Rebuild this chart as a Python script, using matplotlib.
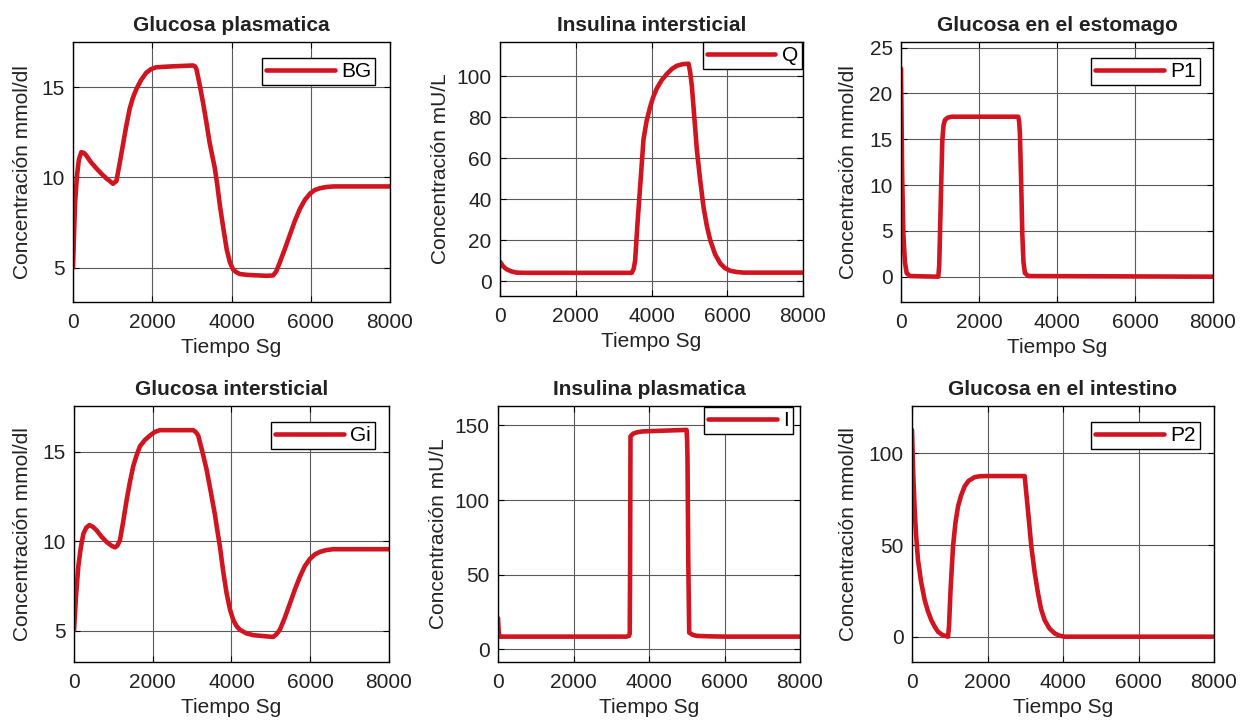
import matplotlib
matplotlib.use("Agg")
import matplotlib.pyplot as plt

plt.rcParams['font.family'] = ['Liberation Sans', 'DejaVu Sans']

# ---------------- data ----------------
t_bg = [0, 50, 100, 150, 210, 280, 340, 450, 590, 720, 840, 1010, 1095, 1180, 1260, 1340, 1430,
        1510, 1600, 1720, 1850, 1970, 2100, 2500, 3030, 3080, 3115, 3200, 3285, 3370, 3450, 3580,
        3640, 3710, 3800, 3880, 3960, 4040, 4120, 4210, 4400, 4700, 4880, 5050, 5130, 5220, 5340,
        5470, 5600, 5725, 5850, 5980, 6100, 6230, 6400, 6570, 8000]
bg = [5.0, 8.5, 10.1, 11.0, 11.4, 11.35, 11.2, 10.85, 10.5, 10.2, 9.95, 9.65, 9.8, 10.8, 11.8,
      12.8, 13.8, 14.4, 14.9, 15.4, 15.8, 16.0, 16.1, 16.15, 16.2, 16.15, 16.0, 15.1, 14.1, 13.0,
      11.9, 10.5, 9.6, 8.4, 7.1, 6.0, 5.3, 4.9, 4.75, 4.65, 4.6, 4.57, 4.55, 4.57, 4.8, 5.3, 6.0,
      6.8, 7.6, 8.25, 8.75, 9.1, 9.3, 9.4, 9.47, 9.5, 9.5]

t_q = [0, 80, 176, 300, 440, 700, 1000, 3480, 3530, 3568, 3630, 3700, 3788, 3870, 3965, 4050,
       4141, 4270, 4405, 4540, 4670, 4820, 4978, 5020, 5066, 5130, 5198, 5280, 5374, 5460, 5550,
       5680, 5815, 5940, 6079, 6250, 6431, 8000]
q = [9.4, 7.2, 5.7, 4.7, 4.1, 4.0, 4.0, 4.0, 6, 10, 28, 46, 69, 78, 85, 90,
     94, 98, 101, 103.5, 105, 105.8, 106, 102, 95, 80, 64, 50, 36, 27, 20,
     13, 8.6, 6.3, 5.0, 4.4, 4.1, 4.1]

t_p1 = [0, 30, 60, 100, 145, 230, 956, 980, 1000, 1030, 1060, 1090, 1127, 1200, 1298, 3006,
        3030, 3049, 3080, 3110, 3140, 3177, 3262, 8000]
p1 = [22.7, 11.0, 4.7, 1.6, 0.4, 0.07, 0.0, 1.2, 4.7, 10.0, 14.9, 16.5, 17.1, 17.35, 17.45, 17.45,
      16.9, 15.6, 10.5, 4.7, 1.6, 0.4, 0.07, 0.0]

t_gi = [0, 50, 110, 170, 237, 310, 390, 480, 575, 700, 830, 950, 1040, 1100, 1167, 1250, 1337,
        1420, 1506, 1590, 1675, 1800, 1929, 2050, 2183, 2600, 3030, 3090, 3155, 3260, 3367, 3470,
        3578, 3640, 3706, 3790, 3875, 3960, 4044, 4130, 4213, 4380, 4551, 4800, 5059, 5140, 5228,
        5350, 5481, 5610, 5735, 5860, 5989, 6110, 6243, 6400, 6581, 8000]
gi = [5.0, 6.9, 8.6, 9.6, 10.4, 10.75, 10.9, 10.8, 10.6, 10.25, 9.95, 9.75, 9.65, 9.75, 10.05,
      11.1, 12.3, 13.3, 14.2, 14.8, 15.3, 15.65, 15.9, 16.1, 16.2, 16.2, 16.2, 16.1, 15.9, 15.0,
      14.0, 12.8, 11.5, 10.6, 9.7, 8.3, 7.1, 6.2, 5.6, 5.25, 5.05, 4.85, 4.75, 4.7, 4.65, 4.8,
      5.05, 5.7, 6.5, 7.3, 8.0, 8.6, 9.0, 9.25, 9.4, 9.5, 9.55, 9.55]

t_i = [0, 20, 44, 3400, 3470, 3490, 3500, 3510, 3580, 3700, 3845, 4995, 5010, 5020, 5040, 5065,
       5150, 5260, 5600, 6055, 8000]
ins = [20.8, 11.0, 8.5, 8.5, 9.0, 10.7, 60, 142.7, 144.5, 145.5, 146, 147, 140, 127, 60, 11.2,
       9.8, 9.0, 8.7, 8.5, 8.5]

t_p2 = [0, 30, 71, 110, 159, 240, 336, 420, 512, 600, 689, 800, 954, 980, 1020, 1086, 1150, 1219,
        1300, 1395, 1500, 1660, 1800, 1925, 2985, 3029, 3090, 3162, 3250, 3338, 3420, 3515, 3640,
        3780, 3900, 4045, 8000]
p2 = [112.7, 90, 69, 55, 41.8, 30, 20, 14, 9, 5.5, 2.7, 1.0, 0.0, 5.5, 25, 49, 62, 71,
      77, 82, 85, 87, 87.5, 87.6, 87.6, 78, 65, 49, 35, 23.6, 15, 9, 4.5,
      1.8, 0.6, 0.0, 0.0]

x_ticks = [0, 2000, 4000, 6000, 8000]

panels = [
    dict(t=t_bg, y=bg, label='BG', title='Glucosa plasmatica', ylabel='Concentración mmol/dl',
         ylim=(3.1, 17.5), yticks=[5, 10, 15], box=(73, 42, 390, 302), leg=(0.953, 0.938), ylx=-0.158),
    dict(t=t_q, y=q, label='Q', title='Insulina intersticial', ylabel='Concentración mU/L',
         ylim=(-7.3, 116.6), yticks=[0, 20, 40, 60, 80, 100], box=(500, 42, 803, 296), leg=(0.997, 1.0), ylx=-0.198),
    dict(t=t_p1, y=p1, label='P1', title='Glucosa en el estomago', ylabel='Concentración mmol/dl',
         ylim=(-2.76, 25.6), yticks=[0, 5, 10, 15, 20, 25], box=(901, 42, 1213, 302), leg=(0.958, 0.938), ylx=-0.167),
    dict(t=t_gi, y=gi, label='Gi', title='Glucosa intersticial', ylabel='Concentración mmol/dl',
         ylim=(3.25, 17.55), yticks=[5, 10, 15], box=(74, 406, 389, 662), leg=(0.956, 0.9375), ylx=-0.162),
    dict(t=t_i, y=ins, label='I', title='Insulina plasmatica', ylabel='Concentración mU/L',
         ylim=(-8.5, 163), yticks=[0, 50, 100, 150], box=(498, 406, 800, 662), leg=(0.977, 0.996), ylx=-0.197),
    dict(t=t_p2, y=p2, label='P2', title='Glucosa en el intestino', ylabel='Concentración mmol/dl',
         ylim=(-13.8, 125.8), yticks=[0, 50, 100], box=(912, 406, 1214, 662), leg=(0.954, 0.9375), ylx=-0.209),
]

W, H = 1245, 725
fig = plt.figure(figsize=(W / 100, H / 100), dpi=100)
fs = 15

for p in panels:
    x0, y0, x1, y1 = p['box']
    ax = fig.add_axes([x0 / W, 1 - y1 / H, (x1 - x0) / W, (y1 - y0) / H])
    ax.plot(p['t'], p['y'], color='#d01420', lw=3.3, label=p['label'],
            solid_joinstyle='round', solid_capstyle='round')
    ax.set_xlim(0, 8000)
    ax.set_ylim(*p['ylim'])
    ax.set_xticks(x_ticks)
    ax.set_yticks(p['yticks'])
    ax.grid(True, color='#5a5a5a', lw=0.8)
    ax.set_axisbelow(True)
    for s in ax.spines.values():
        s.set_linewidth(1.0)
        s.set_color('black')
    ax.tick_params(direction='in', length=4, width=0.8, labelsize=fs, top=True, right=True,
                   colors='black', labelcolor='#222222')
    ax.tick_params(axis='x', pad=8)
    ax.tick_params(axis='y', pad=6)
    ax.set_title(p['title'], fontsize=fs, fontweight='bold', pad=8, color='#222222')
    ax.set_xlabel('Tiempo Sg', fontsize=fs, color='#222222')
    ax.xaxis.set_label_coords(0.5, -0.14)
    ax.xaxis.label.set_va('top')
    ax.set_ylabel(p['ylabel'], fontsize=fs, color='#222222')
    ax.yaxis.set_label_coords(p['ylx'], 0.5)
    ax.yaxis.label.set_va('center')
    leg = ax.legend(loc='upper right', bbox_to_anchor=p['leg'], borderaxespad=0,
                    fontsize=fs, handlelength=3.3, handletextpad=0.3, borderpad=0.2,
                    fancybox=False, edgecolor='black', framealpha=1)
    leg.get_frame().set_linewidth(1.0)

fig.savefig('out.png', dpi=100, facecolor='white')
